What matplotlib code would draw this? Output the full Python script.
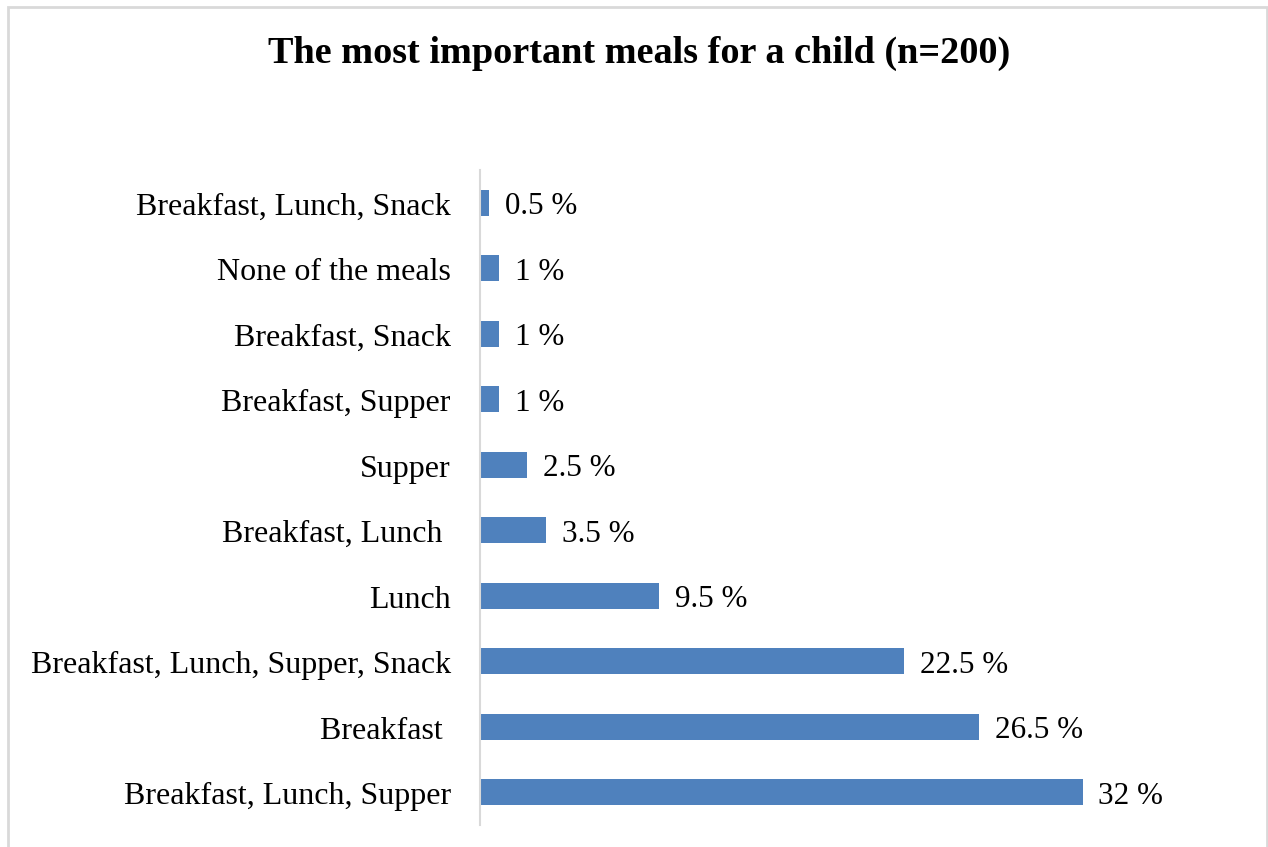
import matplotlib
matplotlib.use("Agg")
import matplotlib.pyplot as plt
from matplotlib.patches import Rectangle
import matplotlib.transforms as mtransforms

# Survey answers, listed bottom to top
categories = [
    "Breakfast, Lunch, Supper",
    "Breakfast ",
    "Breakfast, Lunch, Supper, Snack",
    "Lunch",
    "Breakfast, Lunch ",
    "Supper",
    "Breakfast, Supper",
    "Breakfast, Snack",
    "None of the meals",
    "Breakfast, Lunch, Snack",
]
percentages = [32, 26.5, 22.5, 9.5, 3.5, 2.5, 1, 1, 1, 0.5]
value_labels = ["32 %", "26.5 %", "22.5 %", "9.5 %", "3.5 %", "2.5 %",
                "1 %", "1 %", "1 %", "0.5 %"]
title = "The most important meals for a child (n=200)"

plt.rcParams["font.family"] = ["Liberation Serif", "DejaVu Serif"]

W, H = 1268, 847
fig = plt.figure(figsize=(W / 100, H / 100), dpi=100)

# Chart frame
fig.patches.append(Rectangle((8 / W, -0.01), (1266.5 - 8) / W, 1 - 7.5 / H + 0.01,
                             transform=fig.transFigure, fill=False,
                             edgecolor="#D9D9D9", linewidth=2))

ax_left, ax_right = 480 / W, 1139 / W
ax_top, ax_bottom = 1 - 170 / H, 1 - 825 / H
ax = fig.add_axes([ax_left, ax_bottom, ax_right - ax_left, ax_top - ax_bottom])

y = list(range(len(categories)))
ax.barh(y, percentages, height=0.4, color="#4F81BD")
ax.set_xlim(0, 35)
ax.set_ylim(-0.5, len(categories) - 0.5)

for yi, v, lab in zip(y, percentages, value_labels):
    ax.annotate(lab, (v, yi), xytext=(11.5, -3), textcoords="offset points",
                ha="left", va="center", fontsize=22.4, color="#000000")

ax.set_yticks(y)
ax.set_yticklabels(categories, fontsize=23)
ax.tick_params(axis="y", length=0, pad=21)
# nudge category labels slightly downward
shift = mtransforms.ScaledTranslation(0, -1 / 100, fig.dpi_scale_trans)
for t in ax.get_yticklabels():
    t.set_transform(t.get_transform() + shift)
ax.set_xticks([])
for s in ["top", "right", "bottom"]:
    ax.spines[s].set_visible(False)
ax.spines["left"].set_color("#D9D9D9")
ax.spines["left"].set_linewidth(1.5)

fig.text(639 / W, 1 - 53 / H, title, ha="center", va="center",
         fontsize=27.5, fontweight="bold")

fig.savefig("out.png", dpi=100, facecolor="white")
